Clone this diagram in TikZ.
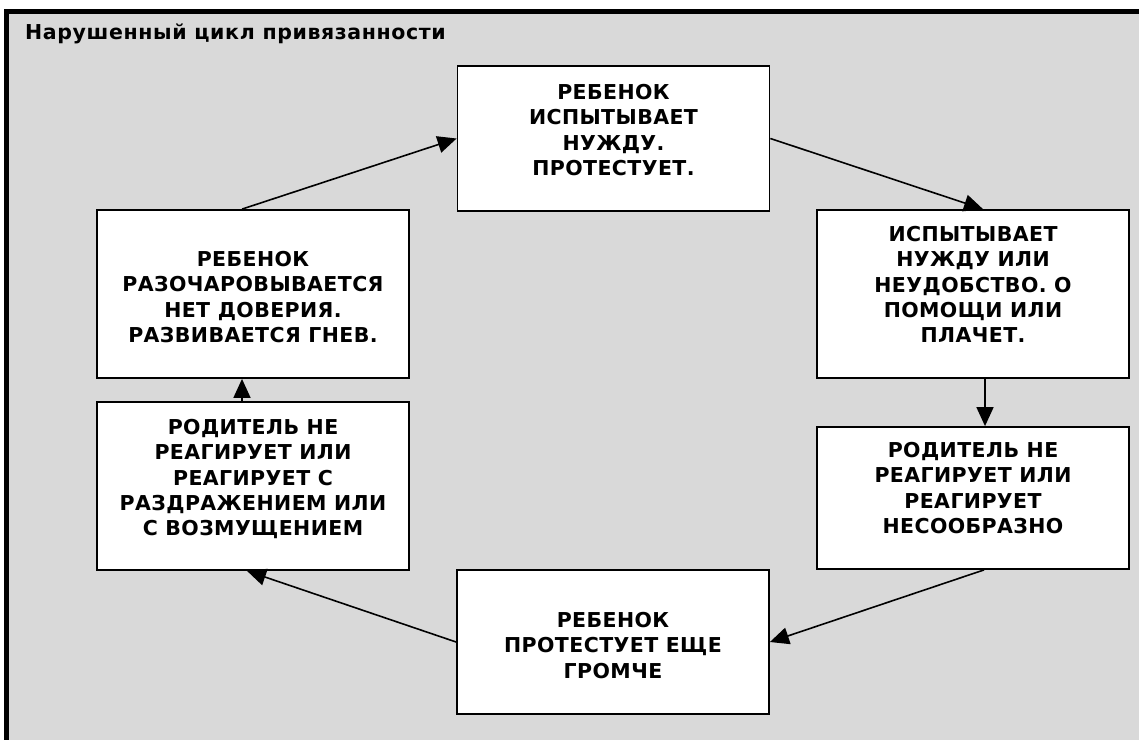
\documentclass[tikz,border=0pt]{standalone}
\usepackage{fontspec}
\setmainfont{DejaVu Sans}
\newfontfamily\vfont[LetterSpace=2]{DejaVu Sans}
\newfontfamily\tfont[LetterSpace=3]{DejaVu Sans}
\usetikzlibrary{arrows.meta}
\definecolor{bggray}{HTML}{D9D9D9}
\begin{document}
\begin{tikzpicture}[x=1pt,y=-1pt,
  box/.style={draw=black, line width=1.8pt, fill=white, inner sep=0pt, minimum width=312pt},
  txt/.style={anchor=north, align=center, inner sep=0pt, font=\vfont\bfseries\fontsize{20.5}{25.3}\selectfont},
  conn/.style={line width=1.6pt, -{Triangle[length=19pt,width=17pt]}}]
\useasboundingbox (0,0) rectangle (1139,740);
\fill[bggray] (4,9) rectangle (1139,740);
\draw[line width=5pt] (4,11.5) -- (1139,11.5);
\draw[line width=5pt] (6.5,9) -- (6.5,740);
\node[anchor=base west, inner sep=0pt, font=\tfont\bfseries\fontsize{20.5}{24}\selectfont] (title) at (25,39) {Нарушенный цикл привязанности};
% boxes
\node[box, minimum height=145pt] (A) at (613.5,138.5) {};
\node[box, minimum height=168pt] (B) at (973,294) {};
\node[box, minimum height=142pt] (C) at (973,498) {};
\node[box, minimum height=144pt] (D) at (613,642) {};
\node[box, minimum height=168pt] (E) at (253,294) {};
\node[box, minimum height=168pt] (F) at (253,486) {};
% texts
\node[txt] (tA) at ([yshift=-19pt]A.north) {РЕБЕНОК\\ИСПЫТЫВАЕТ\\НУЖДУ.\\ПРОТЕСТУЕТ.};
\node[txt] (tB) at ([yshift=-17pt]B.north) {ИСПЫТЫВАЕТ\\НУЖДУ ИЛИ\\НЕУДОБСТВО. О\\ПОМОЩИ ИЛИ\\ПЛАЧЕТ.};
\node[txt] (tC) at ([yshift=-16pt]C.north) {РОДИТЕЛЬ НЕ\\РЕАГИРУЕТ ИЛИ\\РЕАГИРУЕТ\\НЕСООБРАЗНО};
\node[txt] (tD) at ([yshift=-43pt]D.north) {РЕБЕНОК\\ПРОТЕСТУЕТ ЕЩЕ\\ГРОМЧЕ};
\node[txt] (tE) at ([yshift=-42pt]E.north) {РЕБЕНОК\\РАЗОЧАРОВЫВАЕТСЯ\\НЕТ ДОВЕРИЯ.\\РАЗВИВАЕТСЯ ГНЕВ.};
\node[txt] (tF) at ([yshift=-18pt]F.north) {РОДИТЕЛЬ НЕ\\РЕАГИРУЕТ ИЛИ\\РЕАГИРУЕТ С\\РАЗДРАЖЕНИЕМ ИЛИ\\С ВОЗМУЩЕНИЕМ};
% connectors
\draw[conn] ([xshift=-11pt]E.north) -- (A.west);
\draw[conn] (A.east) -- ([xshift=10pt]B.north);
\draw[conn] ([xshift=12pt]B.south) -- ([xshift=12pt]C.north);
\draw[conn] ([xshift=11pt]C.south) -- (D.east);
\draw[conn] (D.west) -- ([xshift=-6pt]F.south);
\draw[conn] ([xshift=-11pt]F.north) -- ([xshift=-11pt]E.south);
\end{tikzpicture}
\end{document}
